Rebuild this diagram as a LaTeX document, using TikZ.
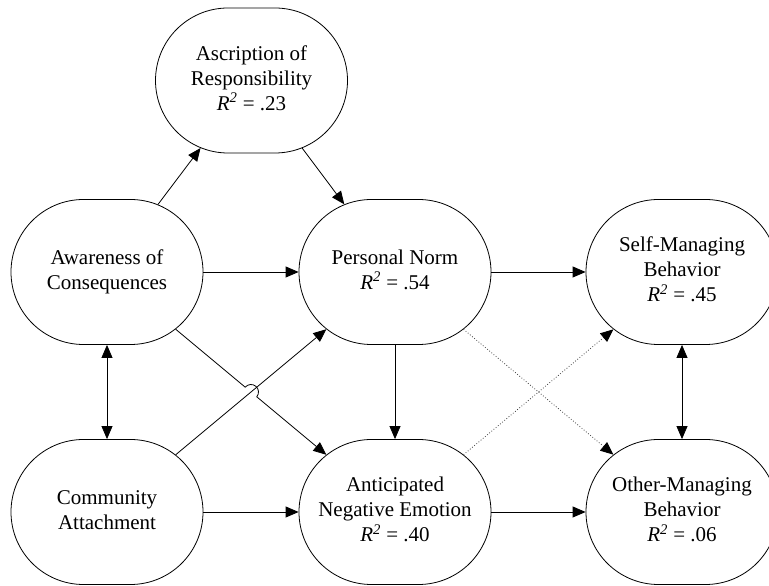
\documentclass[tikz,border=0pt]{standalone}
\usepackage{fontspec}
\setmainfont{Liberation Serif}
\usetikzlibrary{shapes.misc,arrows.meta,calc}
\newcommand{\ntext}[1]{\makebox[0pt]{\begin{tabular}{@{}c@{}}#1\end{tabular}}}
\newcommand{\rsq}[1]{\textit{R}\textsuperscript{\itshape 2} = #1}
\begin{document}
\begin{tikzpicture}[x=1pt,y=1pt,
  var/.style={draw, line width=0.8pt, rounded rectangle, minimum width=192pt,
    minimum height=145pt, inner sep=0pt, font=\fontsize{21}{25}\selectfont},
  tip/.style={Triangle[length=13pt,width=11pt]},
  conn/.style={line width=0.8pt, -{Triangle[length=13pt,width=11pt]}},
  dconn/.style={line width=0.8pt, {Triangle[length=13pt,width=11pt]}-{Triangle[length=13pt,width=11pt]}},
  dotconn/.style={line width=0.8pt, draw=black!75, dash pattern=on 0.8pt off 2pt,
    -{Triangle[length=13pt,width=11pt,fill=black,color=black]}}]
\useasboundingbox (0,0) rectangle (769,586);

\node[var] (asc) at (251.5,505.5) {\ntext{Ascription of\\Responsibility\\\rsq{.23}}};
\node[var] (awa) at (107,314) {\ntext{Awareness of\\Consequences}};
\node[var] (pn)  at (395,314) {\ntext{Personal Norm\\\rsq{.54}}};
\node[var] (smb) at (682,314) {\ntext{Self-Managing\\Behavior\\\rsq{.45}}};
\node[var] (com) at (107,74)  {\ntext{Community\\Attachment}};
\node[var] (ane) at (395,74)  {\ntext{Anticipated\\Negative Emotion\\\rsq{.40}}};
\node[var] (omb) at (682,74)  {\ntext{Other-Managing\\Behavior\\\rsq{.06}}};

\draw[conn] (awa) -- (asc);
\draw[conn] (asc) -- (pn);
\draw[conn] (awa) -- (pn);
\draw[conn] (pn) -- (smb);
\draw[conn] (pn) -- (ane);
\draw[conn] (com) -- (ane);
\draw[conn] (ane) -- (omb);
\draw[conn] (com) -- (pn);
\draw[dconn] (awa) -- (com);
\draw[dconn] (smb) -- (omb);
\draw[dotconn] (pn) -- (omb);
\draw[dotconn] (ane) -- (smb);

\coordinate (cross) at ($(awa)!0.5!(ane)$);
\coordinate (h1) at ($(cross)!7.5pt!(awa)$);
\draw[conn] (awa) -- (h1) arc[start angle=140.19, end angle=-39.81, radius=7.5pt] -- (ane);
\end{tikzpicture}
\end{document}
